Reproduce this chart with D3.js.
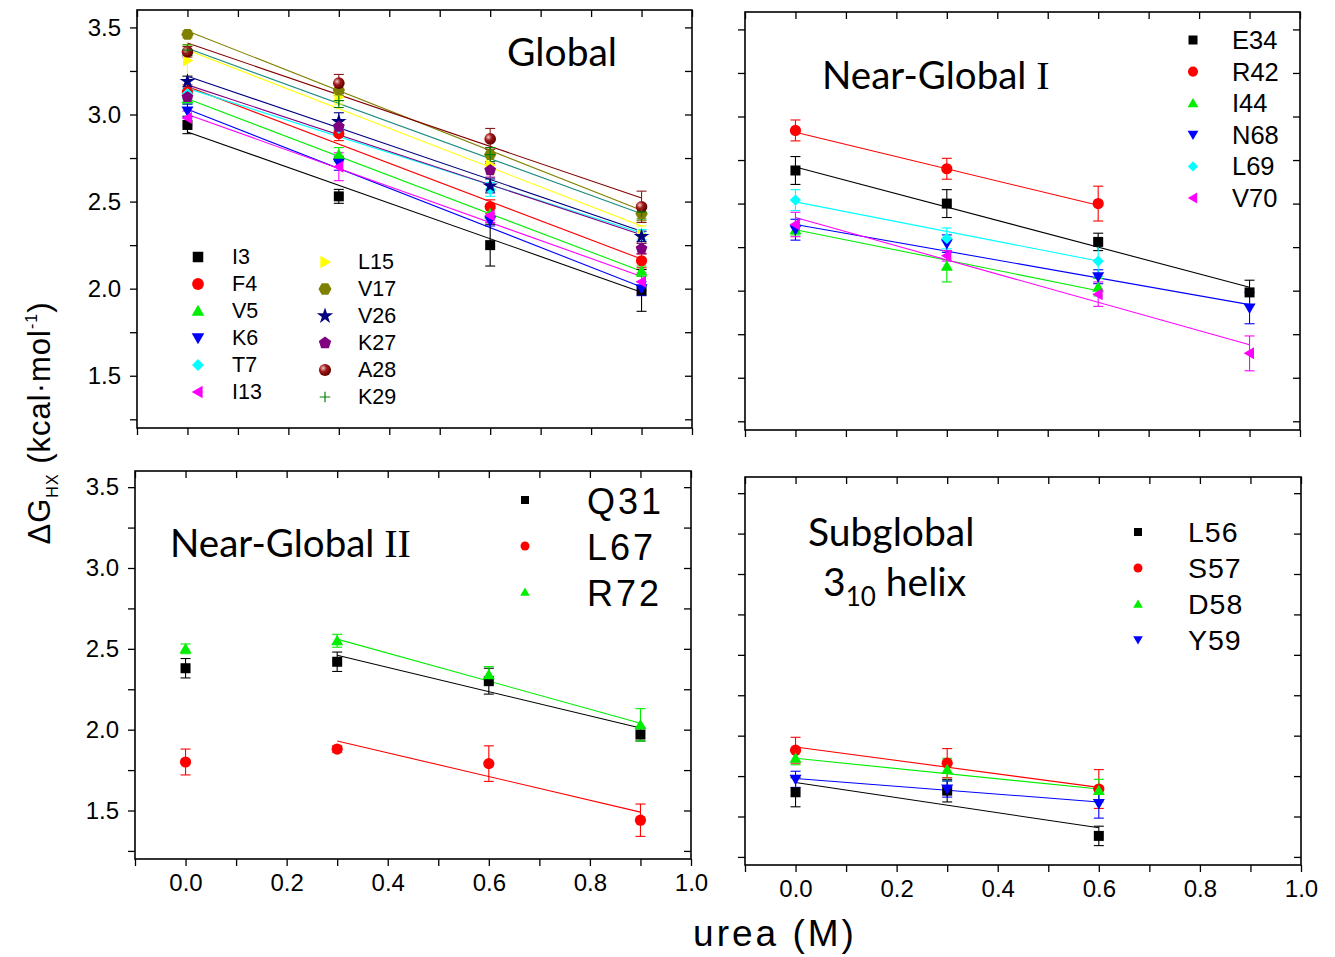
<!DOCTYPE html>
<html><head><meta charset="utf-8">
<script src="https://cdn.jsdelivr.net/npm/d3@7"></script>
<style>body{margin:0;background:#fff}svg{display:block}</style>
</head><body>
<svg id="chart" width="1335" height="957"></svg>
<script>
// ---------------- DATA ----------------
const ureaM = [0, 0.3, 0.6, 0.9];
const xTickLabels = ["0.0", "0.2", "0.4", "0.6", "0.8", "1.0"];
const yTickLabels = ["1.5", "2.0", "2.5", "3.0", "3.5"];

// Global
const globalNames = ["I3","F4","V5","K6","T7","I13","L15","V17","V26","K27","A28","K29"];
const globalValues = [
  [2.94,2.53,2.25,1.99],[3.13,2.89,2.47,2.16],[3.09,2.77,2.43,2.10],[3.02,2.72,2.39,2.00],
  [3.12,2.92,2.57,2.31],[2.98,2.70,2.42,2.04],[3.31,3.10,2.71,2.31],[3.46,3.14,2.77,2.43],
  [3.19,2.96,2.59,2.30],[3.10,2.93,2.68,2.23],[3.36,3.18,2.86,2.47],[3.37,3.08,2.77,2.44]];
const globalErrors = [
  [0.05,0.04,0.12,0.12],[0.04,0.04,0.04,0.04],[0.03,0.04,0.03,0.03],[0.04,0.04,0.03,0.04],
  [0.03,0.04,0.04,0.03],[0.04,0.08,0.04,0.05],[0.09,0.04,0.05,0.05],[0.02,0.03,0.04,0.04],
  [0.03,0.05,0.04,0.03],[0.03,0.04,0.04,0.03],[0.03,0.05,0.06,0.09],[0.03,0.04,0.04,0.04]];
const globalFitX = [[0,0.9],[0,0.9],[0,0.9],[0,0.9],[0,0.9],[0,0.9],[0,0.9],[0,0.9],[0,0.9],[0,0.9],[0,0.9],[0,0.9]];
const globalFitY = [
  [2.90,1.98],[3.16,2.17],[3.09,2.10],[3.03,2.01],[3.15,2.32],[3.00,2.07],
  [3.37,2.36],[3.48,2.45],[3.22,2.33],[3.17,2.31],[3.41,2.52],[3.38,2.43]];

// Near-Global I
const ng1Names = ["E34","R42","I44","N68","L69","V70"];
const ng1Values = [
  [2.69,2.50,2.28,1.99],[2.92,2.70,2.50,null],[2.35,2.14,2.02,null],
  [2.35,2.27,2.08,1.90],[2.52,2.30,2.17,null],[2.38,2.20,1.98,1.64]];
const ng1Errors = [
  [0.08,0.08,0.05,0.07],[0.06,0.06,0.10,null],[0.03,0.09,0.05,null],
  [0.06,0.05,0.04,0.09],[0.06,0.06,0.09,null],[0.07,0.03,0.07,0.10]];
const ng1FitX = [[0,0.9],[0,0.6],[0,0.6],[0,0.9],[0,0.6],[0,0.9]];
const ng1FitY = [[2.71,2.02],[2.91,2.49],[2.35,2.00],[2.38,1.92],[2.51,2.17],[2.42,1.69]];

// Near-Global II
const ng2Names = ["Q31","L67","R72"];
const ng2Values = [[2.38,2.42,2.30,1.97],[1.80,1.88,1.79,1.44],[2.50,2.55,2.34,2.03]];
const ng2Errors = [[0.06,0.06,0.08,0.04],[0.08,0.02,0.11,0.10],[0.03,0.04,0.05,0.10]];
const ng2FitX = [[0.3,0.9],[0.3,0.9],[0.3,0.9]];
const ng2FitY = [[2.46,2.01],[1.93,1.49],[2.56,2.04]];

// Subglobal 3_10 helix
const subNames = ["L56","S57","D58","Y59"];
const subValues = [[1.65,1.66,1.38,null],[1.91,1.83,1.67,null],[1.86,1.79,1.66,null],[1.73,1.67,1.58,null]];
const subErrors = [[0.09,0.07,0.06,null],[0.08,0.09,0.12,null],[0.04,0.07,0.07,null],[0.05,0.05,0.09,null]];
const subFitX = [[0,0.6],[0,0.6],[0,0.6],[0,0.6]];
const subFitY = [[1.71,1.43],[1.93,1.68],[1.86,1.67],[1.735,1.59]];

// ---------------- STYLES ----------------
const style = {
  I3:{c:"#000000",s:"square"}, F4:{c:"#ff0000",s:"circle"}, V5:{c:"#00ee00",s:"up"},
  K6:{c:"#0000ff",s:"down"}, T7:{c:"#00ffff",s:"diamond"}, I13:{c:"#ff00ff",s:"left"},
  L15:{c:"#ffff00",s:"right"}, V17:{c:"#808000",s:"hex"}, V26:{c:"#000080",s:"star"},
  K27:{c:"#800080",s:"pent"}, A28:{c:"#800000",s:"sphere"}, K29:{c:"#008000",s:"plus",line:"#1a8c80"},
  E34:{c:"#000000",s:"square"}, R42:{c:"#ff0000",s:"circle"}, I44:{c:"#00ee00",s:"up"},
  N68:{c:"#0000ff",s:"down"}, L69:{c:"#00ffff",s:"diamond"}, V70:{c:"#ff00ff",s:"left"},
  Q31:{c:"#000000",s:"square"}, L67:{c:"#ff0000",s:"circle"}, R72:{c:"#00ee00",s:"up"},
  L56:{c:"#000000",s:"square"}, S57:{c:"#ff0000",s:"circle"}, D58:{c:"#00ee00",s:"up"}, Y59:{c:"#0000ff",s:"down"}
};

const svg = d3.select("#chart");
const defs = svg.append("defs");
const grad = defs.append("radialGradient").attr("id","sph").attr("cx","35%").attr("cy","35%").attr("r","65%");
grad.append("stop").attr("offset","0%").attr("stop-color","#f4c8c8");
grad.append("stop").attr("offset","45%").attr("stop-color","#a01818");
grad.append("stop").attr("offset","100%").attr("stop-color","#600000");

const FONT = "'Liberation Sans', Arial, sans-serif";

function polyPath(n, r, rot) {
  const pts = d3.range(n).map(i => {
    const a = rot + i * 2 * Math.PI / n;
    return [r * Math.cos(a), r * Math.sin(a)];
  });
  return d3.line()(pts) + "Z";
}

function drawSymbol(g, name, cx, cy, size) {
  const st = style[name];
  const s = size;
  const grp = g.append("g").attr("transform", `translate(${cx},${cy})`);
  const tri = d3.symbol(d3.symbolTriangle, Math.sqrt(3) / 4 * (s * 1.2) * (s * 1.2))();
  switch (st.s) {
    case "square": grp.append("rect").attr("x",-s/2).attr("y",-s/2).attr("width",s).attr("height",s).attr("fill",st.c); break;
    case "circle": grp.append("circle").attr("r",s*0.56).attr("fill",st.c); break;
    case "up": grp.append("path").attr("d",tri).attr("transform","translate(0,1)").attr("fill",st.c); break;
    case "down": grp.append("path").attr("d",tri).attr("transform","rotate(180) translate(0,1)").attr("fill",st.c); break;
    case "left": grp.append("path").attr("d",tri).attr("transform","rotate(-90) translate(0,1)").attr("fill",st.c); break;
    case "right": grp.append("path").attr("d",tri).attr("transform","rotate(90) translate(0,1)").attr("fill",st.c); break;
    case "diamond": grp.append("rect").attr("x",-s*0.4).attr("y",-s*0.4).attr("width",s*0.8).attr("height",s*0.8).attr("transform","rotate(45)").attr("fill",st.c); break;
    case "hex": grp.append("path").attr("d",polyPath(6,s*0.62,0)).attr("fill",st.c); break;
    case "pent": grp.append("path").attr("d",polyPath(5,s*0.62,-Math.PI/2)).attr("fill",st.c); break;
    case "star": grp.append("path").attr("d",d3.symbol(d3.symbolStar, s*s*0.75)()).attr("fill",st.c); break;
    case "sphere": grp.append("circle").attr("r",s*0.58).attr("fill","url(#sph)"); break;
    case "plus": grp.append("path").attr("d",`M${-s*0.5},0H${s*0.5}M0,${-s*0.5}V${s*0.5}`).attr("stroke",st.c).attr("stroke-width",1.2).attr("fill","none"); break;
  }
}

const xTickVals = d3.range(-1, 11).map(i => i / 10);
const yTickVals = d3.range(5, 15).map(i => i / 4);

const panels = [
  {rect:[137,692,10,428], names:globalNames, vals:globalValues, errs:globalErrors, fx:globalFitX, fy:globalFitY, xlab:false, ylab:true},
  {rect:[745,1300,12,430], names:ng1Names, vals:ng1Values, errs:ng1Errors, fx:ng1FitX, fy:ng1FitY, xlab:false, ylab:false},
  {rect:[135,691,471,859], names:ng2Names, vals:ng2Values, errs:ng2Errors, fx:ng2FitX, fy:ng2FitY, xlab:true, ylab:true},
  {rect:[745,1301,477,865], names:subNames, vals:subValues, errs:subErrors, fx:subFitX, fy:subFitY, xlab:true, ylab:false}
];

panels.forEach(p => {
  const [x0, x1, y0, y1] = p.rect;
  const x = d3.scaleLinear().domain([-0.1, 1.0]).range([x0, x1]);
  const y = d3.scaleLinear().domain([1.2, 3.6]).range([y1, y0]);
  const g = svg.append("g");

  const fmtX = d => { const s = d.toFixed(1); return p.xlab && xTickLabels.includes(s) && Math.round(d*10)%2===0 ? s : ""; };
  const fmtY = d => { const s = d.toFixed(1); return p.ylab && Math.abs(d*2-Math.round(d*2))<1e-6 && yTickLabels.includes(s) ? s : ""; };

  const styleAxis = a => {
    a.select(".domain").remove();
    a.selectAll(".tick line").attr("stroke","#000").attr("stroke-width",1.3);
    a.selectAll(".tick text").attr("font-family",FONT).attr("font-size",24).attr("fill","#000");
  };
  g.append("g").attr("transform",`translate(0,${y1})`)
    .call(d3.axisBottom(x).tickValues(xTickVals).tickSize(7).tickPadding(8).tickFormat(fmtX)).call(styleAxis);
  g.append("g").attr("transform",`translate(0,${y0})`)
    .call(d3.axisTop(x).tickValues(xTickVals).tickSize(-7).tickFormat("")).call(styleAxis);
  g.append("g").attr("transform",`translate(${x0},0)`)
    .call(d3.axisLeft(y).tickValues(yTickVals).tickSize(7).tickPadding(9).tickFormat(fmtY)).call(styleAxis);
  g.append("g").attr("transform",`translate(${x1},0)`)
    .call(d3.axisRight(y).tickValues(yTickVals).tickSize(-7).tickFormat("")).call(styleAxis);
  g.append("rect").attr("x",x0).attr("y",y0).attr("width",x1-x0).attr("height",y1-y0)
    .attr("fill","none").attr("stroke","#000").attr("stroke-width",1.6);

  // fit lines
  const line = d3.line().x(d => x(d[0])).y(d => y(d[1]));
  p.names.forEach((n, i) => {
    const st = style[n];
    g.append("path").attr("d", line([[p.fx[i][0], p.fy[i][0]], [p.fx[i][1], p.fy[i][1]]]))
      .attr("stroke", st.line || st.c).attr("stroke-width", 1.1).attr("fill","none");
  });
  // error bars
  p.names.forEach((n, i) => {
    const st = style[n];
    ureaM.forEach((u, j) => {
      const v = p.vals[i][j], e = p.errs[i][j];
      if (v == null) return;
      const col = st.s === "sphere" ? "#8b1a1a" : st.c;
      const eg = g.append("g").attr("stroke", col).attr("stroke-width", 1.1);
      eg.append("line").attr("x1",x(u)).attr("x2",x(u)).attr("y1",y(v-e)).attr("y2",y(v+e));
      eg.append("line").attr("x1",x(u)-5).attr("x2",x(u)+5).attr("y1",y(v-e)).attr("y2",y(v-e));
      eg.append("line").attr("x1",x(u)-5).attr("x2",x(u)+5).attr("y1",y(v+e)).attr("y2",y(v+e));
    });
  });
  // markers
  p.names.forEach((n, i) => {
    ureaM.forEach((u, j) => {
      const v = p.vals[i][j];
      if (v == null) return;
      drawSymbol(g, n, x(u), y(v), 10);
    });
  });
});

// ---------------- LEGENDS ----------------
function legendText(x, y, txt, size, ls) {
  svg.append("text").attr("x", x).attr("y", y).attr("font-family", FONT).attr("font-size", size)
    .attr("letter-spacing", ls || 0).attr("dominant-baseline","central").attr("fill","#000").text(txt);
}
globalNames.forEach((n, i) => {
  const col = i < 6 ? 0 : 1, row = i % 6;
  const sx = col ? 325 : 198, ly = (col ? 262 : 257) + row * 27;
  drawSymbol(svg, n, sx, ly, 10.5);
  legendText(col ? 358 : 232, ly, n, 21.5);
});
ng1Names.forEach((n, i) => {
  const ly = 40 + i * 31.6;
  drawSymbol(svg, n, 1193, ly, 9);
  legendText(1232, ly, n, 25.5);
});
ng2Names.forEach((n, i) => {
  const ly = 500 + i * 46;
  drawSymbol(svg, n, 525, ly, 8);
  legendText(587, ly + 1, n, 36, 3);
});
subNames.forEach((n, i) => {
  const ly = 532 + i * 36;
  drawSymbol(svg, n, 1138, ly, 8);
  legendText(1188, ly, n, 28.5, 1);
});

// ---------------- TITLES ----------------
const TFONT = "Lato, 'Open Sans', sans-serif";
svg.append("text").attr("x",507).attr("y",66).attr("font-family",TFONT).attr("font-size",39).text("Global");
const t2 = svg.append("text").attr("x",822).attr("y",89).attr("font-family",TFONT).attr("font-size",38.5);
t2.append("tspan").text("Near-Global ");
t2.append("tspan").attr("font-family","'Liberation Serif', serif").attr("font-size",40).text("I");
const t3 = svg.append("text").attr("x",170).attr("y",557).attr("font-family",TFONT).attr("font-size",38.5);
t3.append("tspan").text("Near-Global ");
t3.append("tspan").attr("font-family","'Liberation Serif', serif").attr("font-size",40).text("II");
svg.append("text").attr("x",808).attr("y",546).attr("font-family",TFONT).attr("font-size",39).text("Subglobal");
const t4 = svg.append("text").attr("x",823).attr("y",596).attr("font-family",TFONT).attr("font-size",39);
t4.append("tspan").text("3");
t4.append("tspan").attr("font-size",26).attr("dy",10).text("10");
t4.append("tspan").attr("dy",-10).text(" helix");

// ---------------- AXIS TITLES ----------------
svg.append("text").attr("x",775).attr("y",946).attr("text-anchor","middle").attr("font-family",FONT)
  .attr("font-size",37).attr("letter-spacing",3).text("urea (M)");
const yt = svg.append("text").attr("transform","translate(50,423) rotate(-90)").attr("text-anchor","middle")
  .attr("font-family",FONT).attr("font-size",31).attr("letter-spacing",1);
yt.append("tspan").text("ΔG");
yt.append("tspan").attr("font-size",16).attr("dy",8).text("HX");
yt.append("tspan").attr("dy",-8).text(" (kcal·mol");
yt.append("tspan").attr("font-size",16).attr("dy",-13).text("-1");
yt.append("tspan").attr("dy",13).text(")");
</script>
</body></html>
